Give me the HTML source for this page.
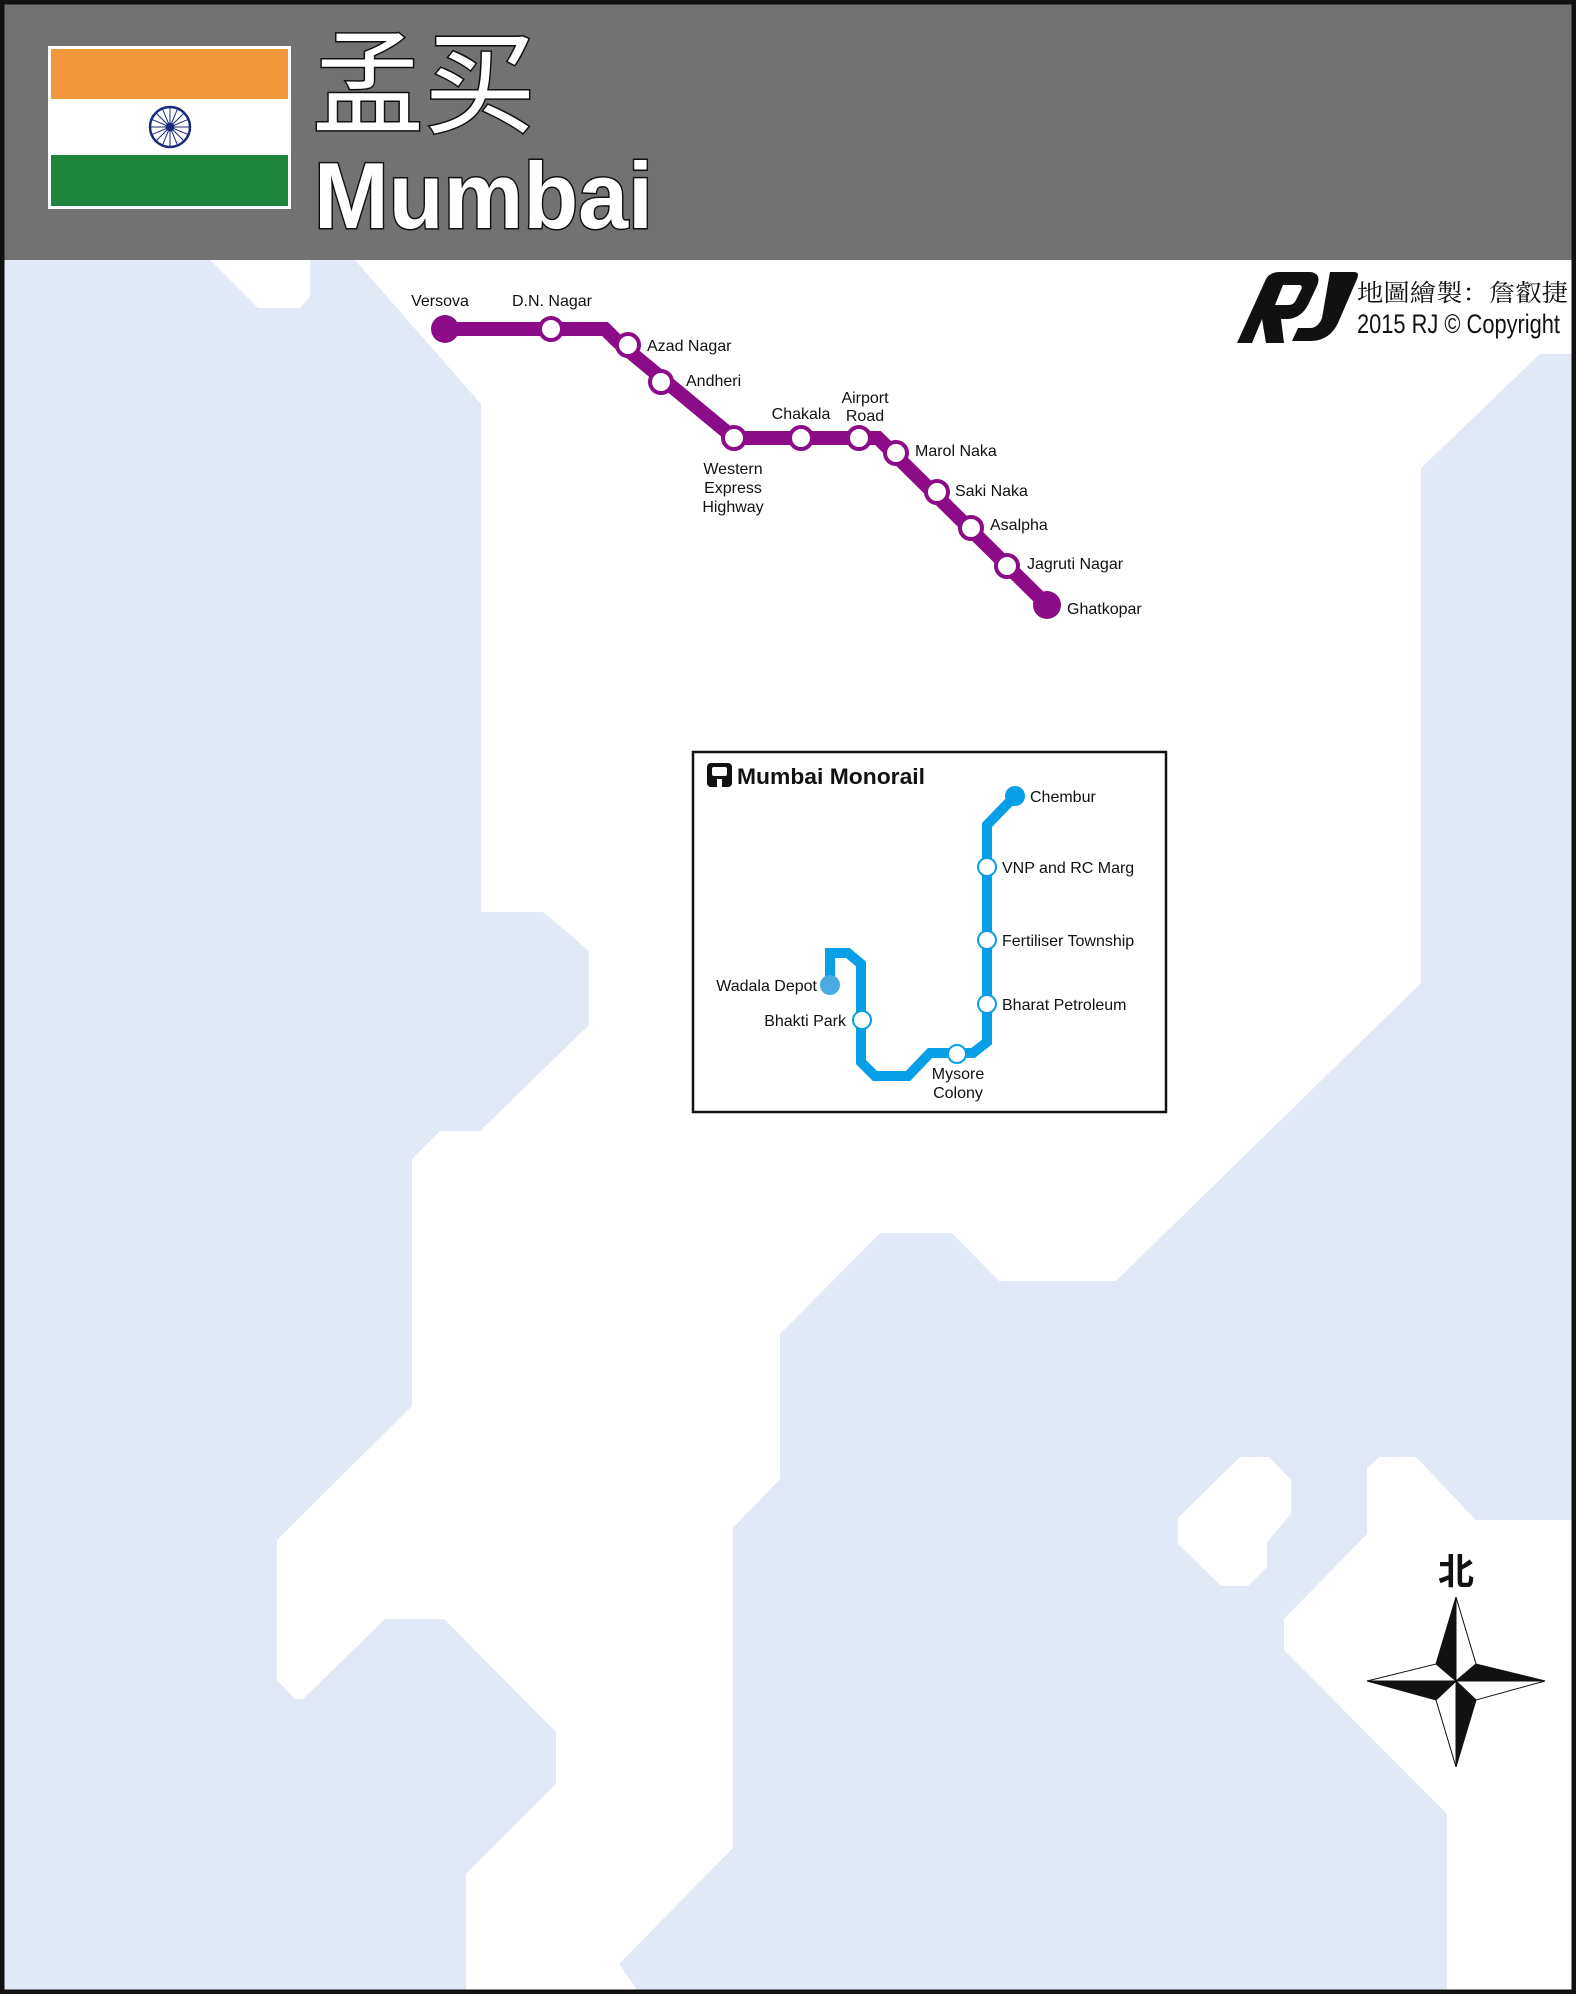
<!DOCTYPE html>
<html><head><meta charset="utf-8"><style>
html,body{margin:0;padding:0;background:#fff}
svg{display:block}
.t{font-family:"Liberation Sans",sans-serif;font-size:16px;fill:#111}
</style></head><body>
<svg width="1576" height="1994" viewBox="0 0 1576 1994" xmlns="http://www.w3.org/2000/svg">
<rect x="0" y="0" width="1576" height="1994" fill="#fff"/>
<g fill="#e1e9f6">
<polygon points="4,260 210,260 258,308 300,308 310,297 310,260 355,260 481,404 481,912 543,912 589,951 589,1025 480,1131 440,1131 412,1159 412,1406 295,1522 277,1540 277,1680 295,1699 303,1699 385,1619 444,1619 556,1732 556,1784 466,1874 466,1994 4,1994"/>
<polygon points="1572,354 1540,354 1421,468 1421,983 1116,1281 999,1281 952,1233 880,1233 780,1334 780,1479 733,1528 733,1848 619,1964 640,1994 1447,1994 1447,1814 1284,1650 1284,1619 1367,1534 1367,1468 1380,1457 1416,1457 1476,1520 1572,1520"/>
</g>
<polygon fill="#fff" points="1240,1457 1269,1457 1291,1480 1291,1514 1267,1542 1267,1567 1248,1586 1221,1586 1178,1544 1178,1518"/>
<rect x="0" y="0" width="1576" height="260" fill="#737272"/>
<rect x="48" y="46" width="243" height="163" fill="#fff"/>
<rect x="51" y="49" width="237" height="50" fill="#f3973b"/>
<rect x="51" y="155" width="237" height="51" fill="#1f843c"/>
<g transform="translate(170,127)" stroke="#1b2a7a" fill="none">
<circle r="20" stroke-width="2.5"/>
<g stroke-width="1">
<line x1="-19" y1="0" x2="19" y2="0"/><line x1="0" y1="-19" x2="0" y2="19"/>
<line x1="-13.4" y1="-13.4" x2="13.4" y2="13.4"/><line x1="-13.4" y1="13.4" x2="13.4" y2="-13.4"/>
<line x1="-17.6" y1="-7.3" x2="17.6" y2="7.3"/><line x1="-17.6" y1="7.3" x2="17.6" y2="-7.3"/>
<line x1="-7.3" y1="-17.6" x2="7.3" y2="17.6"/><line x1="-7.3" y1="17.6" x2="7.3" y2="-17.6"/>
</g>
<circle r="4" fill="#1b2a7a"/>
</g>
<text x="312" y="124" font-family="'Noto Sans CJK SC',sans-serif" font-size="112" fill="#fff" stroke="#111" stroke-width="3" paint-order="stroke">孟买</text>
<text x="314" y="228" font-family="'Liberation Sans',sans-serif" font-weight="bold" font-size="94" fill="#fff" stroke="#111" stroke-width="3" paint-order="stroke" textLength="339" lengthAdjust="spacingAndGlyphs">Mumbai</text>
<!-- RJ logo -->
<g fill="#111">
<path d="M1237,343 L1266,279 Q1270,272 1280,272 L1310,272 Q1322,273 1317,286 L1308,305 Q1301,318 1288,319 L1281,319 L1284,343 L1266,343 L1262,319 L1252,343 Z"/>
<path d="M1330,272 L1354,272 Q1360,272 1357,279 L1338,323 Q1330,340 1312,341 L1292,341 L1298,328 L1310,328 Q1318,328 1322,318 Z"/>
</g>
<path d="M1283,285 L1300,285 Q1303,286 1301,290 L1296,300 Q1294,305 1288,305 L1275,305 Z" fill="#fff"/>
<text x="1357" y="301" font-family="'Noto Serif CJK SC','Noto Sans CJK SC',sans-serif" font-size="24" fill="#111" textLength="211" lengthAdjust="spacingAndGlyphs">地圖繪製：詹叡捷</text>
<text x="1357" y="333" font-family="'Liberation Sans Narrow','Liberation Sans',sans-serif" font-size="27" fill="#111" textLength="203" lengthAdjust="spacingAndGlyphs">2015 RJ © Copyright</text>
<polyline fill="none" stroke="#8c0b87" stroke-width="14" stroke-linejoin="miter" points="445,329 605,329 618,342 734,438 878,438 1047,605"/>
<g fill="#8c0b87"><circle cx="445" cy="329" r="14"/><circle cx="1047" cy="605" r="14"/></g>
<g fill="#fff" stroke="#8c0b87" stroke-width="4">
<circle cx="551" cy="329" r="11"/><circle cx="628" cy="345" r="11"/><circle cx="661" cy="382" r="11"/>
<circle cx="734" cy="438" r="11"/><circle cx="801" cy="438" r="11"/><circle cx="859" cy="438" r="11"/>
<circle cx="896" cy="453" r="11"/><circle cx="937" cy="492" r="11"/><circle cx="971" cy="528" r="11"/>
<circle cx="1007" cy="566" r="11"/>
</g>
<g class="t">
<text x="440" y="306" text-anchor="middle">Versova</text>
<text x="552" y="306" text-anchor="middle">D.N. Nagar</text>
<text x="647" y="351">Azad Nagar</text>
<text x="686" y="386">Andheri</text>
<text x="801" y="419" text-anchor="middle">Chakala</text>
<text x="865" y="403" text-anchor="middle">Airport</text>
<text x="865" y="421" text-anchor="middle">Road</text>
<text x="733" y="474" text-anchor="middle">Western</text>
<text x="733" y="493" text-anchor="middle">Express</text>
<text x="733" y="512" text-anchor="middle">Highway</text>
<text x="915" y="456">Marol Naka</text>
<text x="955" y="496">Saki Naka</text>
<text x="990" y="530">Asalpha</text>
<text x="1027" y="569">Jagruti Nagar</text>
<text x="1067" y="614">Ghatkopar</text>
</g>
<rect x="693" y="752" width="473" height="360" fill="#fff" stroke="#111" stroke-width="2.5"/>
<rect x="707" y="763" width="25" height="24" rx="4" fill="#111"/>
<rect x="712" y="767" width="15" height="9" rx="2" fill="#fff"/>
<rect x="717" y="779" width="5" height="8" fill="#fff"/>
<text x="737" y="784" font-family="'Liberation Sans',sans-serif" font-weight="bold" font-size="22" fill="#111" textLength="188" lengthAdjust="spacingAndGlyphs">Mumbai Monorail</text>
<polyline fill="none" stroke="#079fe6" stroke-width="10" stroke-linejoin="miter" points="1015,796 987,825 987,1042 973,1053 930,1053 908,1076 875,1076 861,1062 861,964 848,953 830,953 830,984"/>
<circle cx="1015" cy="796" r="10" fill="#079fe6"/>
<circle cx="830" cy="985" r="10" fill="#4aaae2"/>
<g fill="#fff" stroke="#079fe6" stroke-width="2">
<circle cx="987" cy="867" r="9"/><circle cx="987" cy="940" r="9"/><circle cx="987" cy="1004" r="9"/>
<circle cx="957" cy="1054" r="9"/><circle cx="862" cy="1020" r="9"/>
</g>
<g class="t">
<text x="1030" y="802">Chembur</text>
<text x="1002" y="873">VNP and RC Marg</text>
<text x="1002" y="946">Fertiliser Township</text>
<text x="1002" y="1010">Bharat Petroleum</text>
<text x="958" y="1079" text-anchor="middle">Mysore</text>
<text x="958" y="1098" text-anchor="middle">Colony</text>
<text x="817" y="991" text-anchor="end">Wadala Depot</text>
<text x="846" y="1026" text-anchor="end">Bhakti Park</text>
</g>
<text x="1456" y="1584" text-anchor="middle" font-family="'Noto Sans CJK SC',sans-serif" font-weight="bold" font-size="36" fill="#111">北</text>
<g stroke="#111" stroke-width="1" stroke-linejoin="miter">
<polygon points="1456,1597 1436,1664 1456,1681" fill="#111"/>
<polygon points="1456,1597 1476,1664 1456,1681" fill="#fff"/>
<polygon points="1545,1681 1476,1664 1456,1681" fill="#111"/>
<polygon points="1545,1681 1476,1700 1456,1681" fill="#fff"/>
<polygon points="1456,1767 1476,1700 1456,1681" fill="#111"/>
<polygon points="1456,1767 1436,1700 1456,1681" fill="#fff"/>
<polygon points="1367,1681 1436,1700 1456,1681" fill="#111"/>
<polygon points="1367,1681 1436,1664 1456,1681" fill="#fff"/>
</g>
<rect x="2" y="2" width="1572" height="1990" fill="none" stroke="#111" stroke-width="5"/>
</svg>
</body></html>
